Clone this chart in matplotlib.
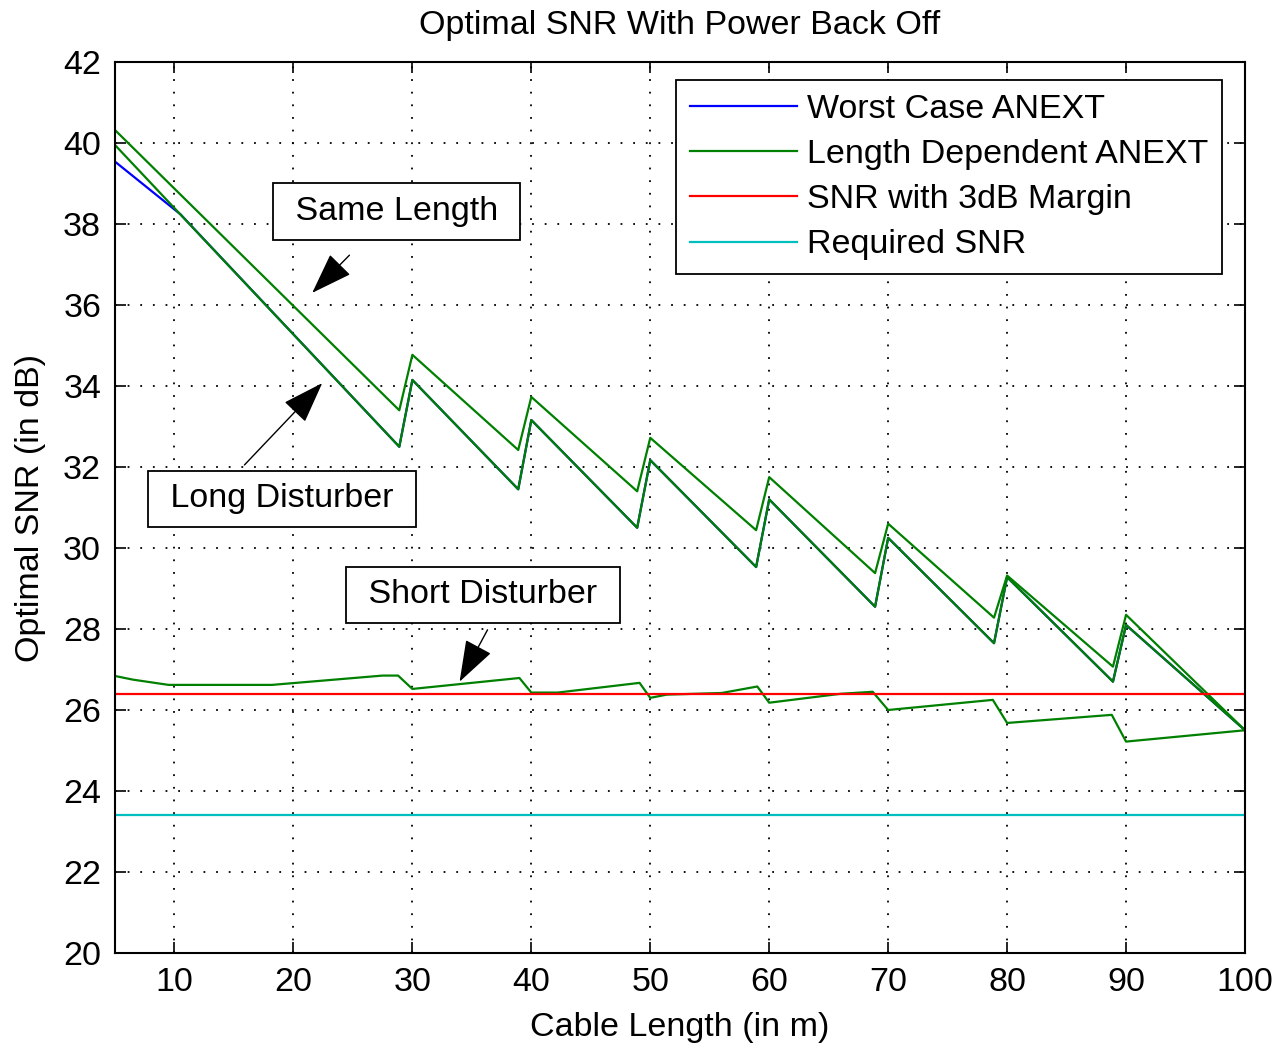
import matplotlib
matplotlib.use("Agg")
import matplotlib.pyplot as plt

plt.rcParams["font.family"] = ["Liberation Sans", "DejaVu Sans"]

# breakpoints of each SNR curve (cable length in m, SNR in dB)
same_x = [5, 28.9, 30, 38.9, 40, 48.9, 50, 58.9, 60, 68.9, 70, 78.9, 80, 88.9, 90, 100]
same_y = [40.32, 33.4, 34.77, 32.42, 33.73, 31.40, 32.72, 30.44, 31.75, 29.38,
          30.60, 28.28, 29.32, 27.07, 28.35, 25.5]

long_x = [5, 28.9, 30, 38.9, 40, 48.9, 50, 58.9, 60, 68.9, 70, 78.9, 80, 88.9, 90, 100]
long_y = [39.95, 32.5, 34.15, 31.45, 33.16, 30.5, 32.17, 29.53, 31.2, 28.55,
          30.25, 27.65, 29.28, 26.7, 28.1, 25.5]

worst_x = [5, 10.5, 28.9, 30, 38.9, 40, 48.9, 50, 58.9, 60, 68.9, 70, 78.9, 80, 88.9, 90, 100]
worst_y = [39.54, 38.24, 32.5, 34.15, 31.45, 33.16, 30.5, 32.17, 29.53, 31.2, 28.55,
           30.25, 27.65, 29.28, 26.7, 28.1, 25.5]

short_x = [5, 6.5, 9.5, 18.2, 27.5, 28.8, 30, 39, 40, 42.2, 49.1, 50, 51.4, 56, 59, 60,
           66, 68.7, 70, 78.8, 80, 88.8, 90, 100]
short_y = [26.84, 26.75, 26.62, 26.62, 26.85, 26.85, 26.52, 26.79, 26.43, 26.43, 26.67,
           26.3, 26.38, 26.42, 26.58, 26.18, 26.4, 26.45, 26.0, 26.25, 25.68, 25.88,
           25.22, 25.5]

margin_snr = 26.4
required_snr = 23.4

FS = 24.5
fig = plt.figure(figsize=(12.79, 10.46), dpi=100)
ax = fig.add_axes([115 / 1279, 1 - 953 / 1046, 1130 / 1279, 891 / 1046])

ax.plot(worst_x, worst_y, color=(0, 0, 1), lw=1.6, label="Worst Case ANEXT")
ax.plot(same_x, same_y, color=(0, 0.5, 0), lw=1.6, label="Length Dependent ANEXT")
ax.plot(long_x, long_y, color=(0, 0.5, 0), lw=1.6)
ax.plot(short_x, short_y, color=(0, 0.5, 0), lw=1.6)
ax.axhline(margin_snr, color=(1, 0, 0), lw=1.6, label="SNR with 3dB Margin")
ax.axhline(required_snr, color=(0, 0.75, 0.75), lw=1.6, label="Required SNR")

ax.set_xlim(5, 100)
ax.set_ylim(20, 42)
ax.set_xticks(range(10, 101, 10))
ax.set_yticks(range(20, 43, 2))
ax.tick_params(direction="in", length=8, width=1.2, top=True, right=True,
               labelsize=FS, pad=10)
ax.grid(True, color="black", linestyle=(0, (1, 6)), linewidth=1.3)
for sp in ax.spines.values():
    sp.set_linewidth(1.5)

ax.set_title("Optimal SNR With Power Back Off", fontsize=FS, pad=20)
ax.set_xlabel("Cable Length (in m)", fontsize=FS, labelpad=10)
ax.set_ylabel("Optimal SNR (in dB)", fontsize=FS, labelpad=12)

leg = ax.legend(loc="upper right", bbox_to_anchor=(1222 / 1279, 1 - 80 / 1046),
                bbox_transform=fig.transFigure, borderaxespad=0, fontsize=FS,
                fancybox=False, framealpha=1, edgecolor="black",
                handlelength=3.15, handletextpad=0.3, labelspacing=0.42,
                borderpad=0.4)
leg.get_frame().set_linewidth(1.3)

box = dict(boxstyle="square,pad=0.38", facecolor="white", edgecolor="black", lw=1.3)
arrow = dict(arrowstyle="-|>,head_length=1.2,head_width=0.42", color="black",
             lw=1, mutation_scale=22, shrinkA=0, shrinkB=0)

ax.text(28.67, 38.3, " Same Length ", fontsize=FS, ha="center", va="center", bbox=box)
ax.annotate("", xy=(21.58, 36.3), xytext=(24.71, 37.23), arrowprops=arrow)

ax.text(19.04, 31.21, " Long Disturber ", fontsize=FS, ha="center", va="center", bbox=box)
ax.annotate("", xy=(22.42, 34.07), xytext=(15.88, 32.05), arrowprops=arrow)

ax.text(35.94, 28.84, " Short Disturber ", fontsize=FS, ha="center", va="center", bbox=box)
ax.annotate("", xy=(33.97, 26.7), xytext=(36.32, 27.98), arrowprops=arrow)

fig.savefig("out.png", dpi=100, facecolor="white")
